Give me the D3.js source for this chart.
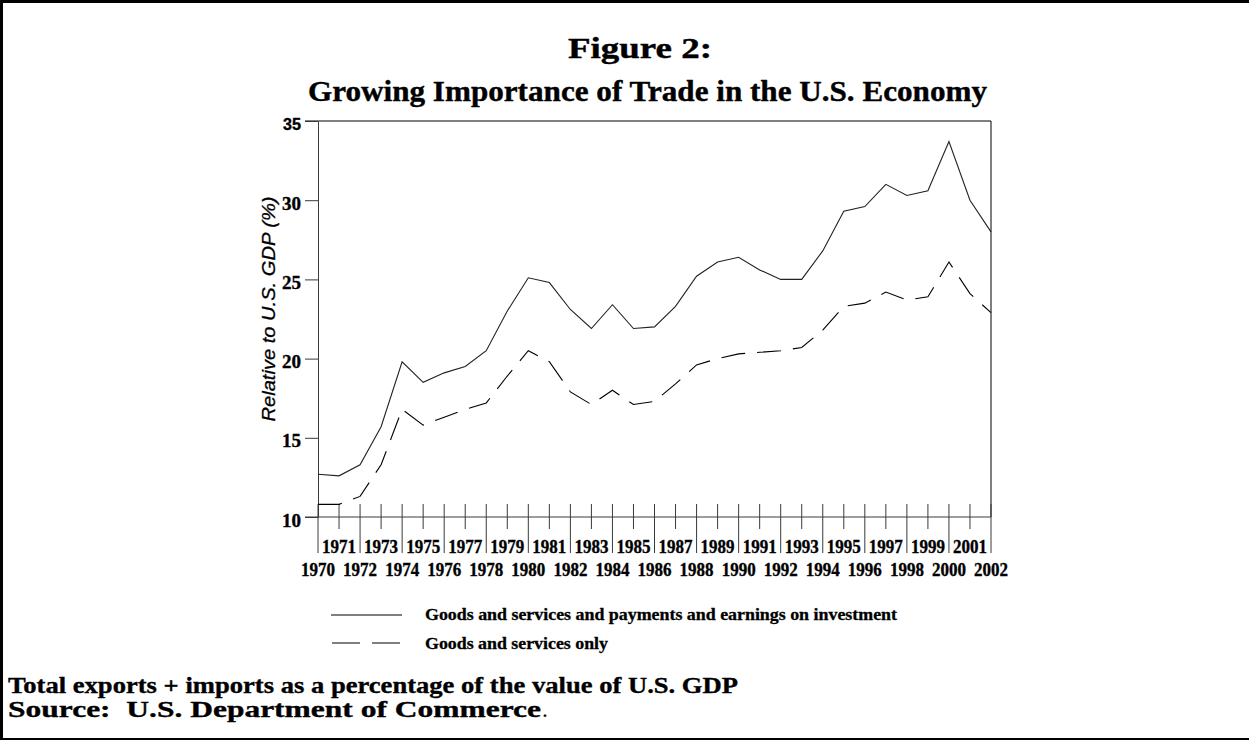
<!DOCTYPE html>
<html>
<head>
<meta charset="utf-8">
<script src="https://cdn.jsdelivr.net/npm/d3@7"></script>
<style>
  html, body { margin: 0; padding: 0; background: #fff; }
  svg { display: block; }
  text { white-space: pre; }
</style>
</head>
<body>
<script>
// ---------- data ----------
const years = [1970,1971,1972,1973,1974,1975,1976,1977,1978,1979,1980,1981,1982,1983,1984,1985,1986,
               1987,1988,1989,1990,1991,1992,1993,1994,1995,1996,1997,1998,1999,2000,2001,2002];
const totalWithInvestment = [12.7,12.6,13.3,15.7,19.8,18.5,19.1,19.5,20.5,23.0,25.1,24.8,23.1,21.9,23.4,21.9,22.0,
               23.3,25.2,26.1,26.4,25.6,25.0,25.0,26.8,29.3,29.6,31.0,30.3,30.6,33.7,30.0,28.0];
const goodsServicesOnly = [10.8,10.8,11.3,13.3,16.8,15.8,16.3,16.8,17.2,18.9,20.5,19.8,17.9,17.1,18.0,17.1,17.3,
               18.4,19.6,20.0,20.3,20.4,20.5,20.7,21.8,23.3,23.5,24.2,23.7,23.9,26.1,24.1,22.9];
const yTicks = [10,15,20,25,30,35];
const seriesNames = ["Goods and services and payments and earnings on investment", "Goods and services only"];
const titleLines = ["Figure 2:", "Growing Importance of Trade in the U.S. Economy"];
const yAxisTitle = "Relative to U.S. GDP (%)";
const noteLines = ["Total exports + imports as a percentage of the value of U.S. GDP", "Source:  U.S. Department of Commerce"];

// ---------- layout ----------
const W = 1249, H = 740;
const SERIF = "'Liberation Serif', 'Times New Roman', serif";
const SANS = "'Liberation Sans', Arial, sans-serif";
const svg = d3.select("body").append("svg").attr("width", W).attr("height", H);

function stretch(sel, width) {
  return sel.attr("textLength", width).attr("lengthAdjust", "spacingAndGlyphs");
}
function heavy(sel, w) { return sel.attr("stroke", "#000").attr("stroke-width", w); }

// page borders
svg.append("rect").attr("x", 0).attr("y", 0).attr("width", W).attr("height", 3).attr("fill", "#000");
svg.append("rect").attr("x", 0).attr("y", 0).attr("width", 3).attr("height", H).attr("fill", "#000");
svg.append("rect").attr("x", 0).attr("y", 738).attr("width", W).attr("height", 2).attr("fill", "#000");

// titles
const t1 = svg.append("text").attr("x", 568).attr("y", 58)
  .attr("font-family", SERIF).attr("font-weight", "bold").attr("font-size", 30).text(titleLines[0]);
stretch(t1, 144); heavy(t1, 0.4);
const t2 = svg.append("text").attr("x", 308).attr("y", 101)
  .attr("font-family", SERIF).attr("font-weight", "bold").attr("font-size", 30).text(titleLines[1]);
stretch(t2, 679); heavy(t2, 0.4);

// scales
const x = d3.scaleLinear().domain([1970, 2002]).range([318, 991]);
const y = d3.scaleLinear().domain([10, 35]).range([517, 121]);

const axisColor = "#3a3a3a";

// plot frame: top and right border
svg.append("line").attr("x1", 305).attr("x2", x(2002)).attr("y1", y(35)).attr("y2", y(35))
  .attr("stroke", "#000").attr("stroke-width", 1);
svg.append("line").attr("x1", x(2002)).attr("x2", x(2002)).attr("y1", y(35)).attr("y2", y(10))
  .attr("stroke", "#000").attr("stroke-width", 1);

// y axis
const yAxis = svg.append("g").attr("transform", `translate(${x(1970)},0)`)
  .call(d3.axisLeft(y).tickValues(yTicks).tickSize(13).tickSizeOuter(0).tickPadding(4).tickFormat(d3.format("d")));
yAxis.select(".domain").attr("stroke", axisColor);
yAxis.selectAll(".tick line").attr("stroke", axisColor);
yAxis.selectAll(".tick text")
  .attr("font-family", d => d === 35 ? SANS : SERIF)
  .attr("font-weight", "bold")
  .attr("font-size", d => d === 35 ? 16.5 : 18)
  .attr("fill", "#000")
  .attr("stroke", "#000").attr("stroke-width", 0.35)
  .attr("textLength", d => d === 35 ? 18 : 19)
  .attr("lengthAdjust", "spacingAndGlyphs")
  .attr("dy", "0.5em");

// x axis baseline
svg.append("line").attr("x1", 305).attr("x2", x(2002)).attr("y1", y(10)).attr("y2", y(10))
  .attr("stroke", axisColor);

// x ticks
const xt = svg.append("g");
xt.selectAll("line").data(years).join("line")
  .attr("x1", d => x(d)).attr("x2", d => x(d))
  .attr("y1", y(10) - 13)
  .attr("y2", d => (d % 2 === 1) ? 529 : 553)
  .attr("stroke", axisColor);
xt.selectAll("text").data(years).join("text")
  .attr("x", d => x(d))
  .attr("y", d => (d % 2 === 1) ? 553 : 576)
  .attr("text-anchor", "middle")
  .attr("font-family", SERIF).attr("font-weight", "bold").attr("font-size", 18)
  .attr("textLength", 34).attr("lengthAdjust", "spacingAndGlyphs")
  .attr("fill", "#000")
  .attr("stroke", "#000").attr("stroke-width", 0.35)
  .text(d => d);

// y axis title
const yt = svg.append("text")
  .attr("transform", `translate(275,309) rotate(-90)`)
  .attr("text-anchor", "middle")
  .attr("font-family", SANS).attr("font-style", "italic").attr("font-size", 19)
  .text(yAxisTitle);
stretch(yt, 225); heavy(yt, 0.3);

// lines
const line = d3.line().x((d, i) => x(years[i])).y(d => y(d));
svg.append("path").datum(totalWithInvestment).attr("d", line)
  .attr("fill", "none").attr("stroke", "#222").attr("stroke-width", 1.1);
svg.append("path").datum(goodsServicesOnly).attr("d", line)
  .attr("fill", "none").attr("stroke", "#000").attr("stroke-width", 1.1)
  .attr("stroke-dasharray", "24,12");

// legend
const lg = svg.append("g");
lg.append("line").attr("x1", 331).attr("x2", 402).attr("y1", 615).attr("y2", 615)
  .attr("stroke", "#000").attr("stroke-width", 1.1);
lg.append("line").attr("x1", 332).attr("x2", 400).attr("y1", 643).attr("y2", 643)
  .attr("stroke", "#000").attr("stroke-width", 1.1).attr("stroke-dasharray", "28,12");
const l1 = lg.append("text").attr("x", 425).attr("y", 620)
  .attr("font-family", SERIF).attr("font-weight", "bold").attr("font-size", 16.5).text(seriesNames[0]);
stretch(l1, 472); heavy(l1, 0.3);
const l2 = lg.append("text").attr("x", 425).attr("y", 649)
  .attr("font-family", SERIF).attr("font-weight", "bold").attr("font-size", 16.5).text(seriesNames[1]);
stretch(l2, 183); heavy(l2, 0.3);

// notes
const n1 = svg.append("text").attr("x", 8).attr("y", 693)
  .attr("font-family", SERIF).attr("font-weight", "bold").attr("font-size", 23.5).text(noteLines[0]);
stretch(n1, 730); heavy(n1, 0.35);
const n2 = svg.append("text").attr("x", 8).attr("y", 717)
  .attr("font-family", SERIF).attr("font-weight", "bold").attr("font-size", 23.5).text(noteLines[1]);
stretch(n2, 533); heavy(n2, 0.35);
svg.append("text").attr("x", 542).attr("y", 717)
  .attr("font-family", SERIF).attr("font-size", 23.5).text(".");
</script>
</body>
</html>
